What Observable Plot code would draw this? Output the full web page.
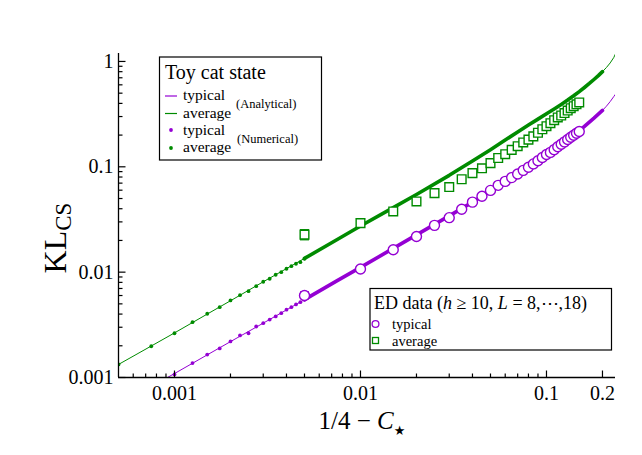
<!DOCTYPE html>
<html><head><meta charset="utf-8">
<script src="https://cdn.jsdelivr.net/npm/d3@7"></script>
<script src="https://cdn.jsdelivr.net/npm/@observablehq/plot@0.6"></script>
<style>body{margin:0;background:#fff;}</style>
</head><body><div id="chart"></div>
<script>
const purple = "#9400d3", green = "#008b00";
const FONT = "Liberation Serif, Times New Roman, serif";

// Analytical curves
const anaX = [0.0005,0.00075,0.001,0.0015,0.002,0.003,0.004,0.005,0.0075,0.01,0.015,0.02,0.03,0.04,0.05,0.06,0.07,0.08,0.09,0.1,0.11,0.12,0.13,0.14,0.15,0.16,0.17,0.18,0.19,0.2,0.21,0.22,0.23,0.236];
const anaTypical = [0.000545,0.00082,0.00109,0.00164,0.00219,0.00328,0.00438,0.00548,0.0083,0.0111,0.0168,0.0226,0.0342,0.0462,0.0590,0.0720,0.0855,0.0992,0.1135,0.129,0.145,0.162,0.180,0.199,0.219,0.242,0.266,0.290,0.316,0.343,0.376,0.416,0.464,0.494];
const anaAverage = [0.00133,0.00199,0.00265,0.0040,0.00535,0.0081,0.0108,0.0135,0.0204,0.0274,0.0410,0.0546,0.0830,0.1135,0.1455,0.1795,0.2142,0.2488,0.2835,0.319,0.354,0.391,0.430,0.472,0.517,0.566,0.618,0.674,0.734,0.800,0.876,0.968,1.09,1.20];

// Numerical dots (individually visible at small x)
const numX = [0.0005,0.00075,0.001,0.00125,0.0015,0.00175,0.002,0.00225,0.0025,0.00275,0.003,0.00325,0.0035,0.00375,0.004,0.00425,0.0045,0.00475,0.005];
const numAverage = [0.00133,0.00198,0.00263,0.00335,0.00403,0.00465,0.00539,0.00605,0.0066,0.00736,0.00811,0.00866,0.00945,0.0100,0.01077,0.0114,0.01202,0.01245,0.0134];
const numTypical = [null,null,0.00107,0.00137,0.00165,0.00189,0.0022,0.00251,0.00263,0.00305,0.00328,0.00355,0.0038,0.00408,0.0044,0.00465,0.00494,0.00519,0.00546];

// ED data
const edX = [0.005,0.01,0.015,0.02,0.025,0.03,0.035,0.04,0.045,0.05,0.055,0.06,0.065,0.07,0.075,0.08,0.085,0.09,0.095,0.1,0.105,0.11,0.115,0.12,0.125,0.13,0.135,0.14,0.145,0.15];
const edTypical = [0.0060,0.0107,0.0163,0.0218,0.0278,0.0329,0.0395,0.0462,0.0525,0.0597,0.0667,0.0727,0.0790,0.0855,0.0925,0.0990,0.1065,0.1140,0.1225,0.1310,0.1370,0.1455,0.1550,0.1635,0.1725,0.1815,0.1905,0.1990,0.2080,0.2165];
const edAverage = [0.0227,0.0292,0.0377,0.0469,0.0563,0.0642,0.0762,0.0871,0.0968,0.1084,0.1212,0.1318,0.1448,0.1568,0.1702,0.1813,0.1946,0.2105,0.2272,0.2430,0.2593,0.2770,0.2940,0.3070,0.3240,0.3420,0.3600,0.3760,0.3920,0.4080];
const errX = [0.005, 0.005];
const errLo = [0.0203, 0.0056];
const errHi = [0.0253, 0.0065];
const errSeries = ["average", "typical"];

// Ticks
const xMajor = [0.001, 0.01, 0.1, 0.2];
const xMinor = [0.0006,0.0007,0.0008,0.0009,0.002,0.003,0.004,0.005,0.006,0.007,0.008,0.009,0.02,0.03,0.04,0.05,0.06,0.07,0.08,0.09];
const yMajor = [0.001, 0.01, 0.1, 1];
const yMinor = [0.002,0.003,0.004,0.005,0.006,0.007,0.008,0.009,0.02,0.03,0.04,0.05,0.06,0.07,0.08,0.09,0.2,0.3,0.4,0.5,0.6,0.7,0.8,0.9];

const ana = anaX.flatMap((x, i) => [{x, y: anaTypical[i], s: "typical"}, {x, y: anaAverage[i], s: "average"}]);
const num = numX.flatMap((x, i) => [{x, y: numTypical[i], s: "typical"}, {x, y: numAverage[i], s: "average"}]).filter(d => d.y != null);
const band = ana.filter(d => d.x >= 0.005 && d.x <= 0.2);
const edT = edX.map((x, i) => ({x, y: edTypical[i]}));
const edA = edX.map((x, i) => ({x, y: edAverage[i]}));
const err = errX.map((x, i) => ({x, lo: errLo[i], hi: errHi[i], s: errSeries[i]}));

const vtick = {draw(ctx, size) { const l = Math.sqrt(size / Math.PI); ctx.moveTo(0, 0); ctx.lineTo(0, -l); }};
const htick = {draw(ctx, size) { const l = Math.sqrt(size / Math.PI); ctx.moveTo(0, 0); ctx.lineTo(l, 0); }};
const hcap = {draw(ctx, size) { const l = Math.sqrt(size / Math.PI); ctx.moveTo(-l, 0); ctx.lineTo(l, 0); }};

const chart = Plot.plot({
  width: 642, height: 455,
  marginLeft: 118, marginRight: 27, marginTop: 53, marginBottom: 78,
  style: {fontFamily: FONT, background: "white", color: "black"},
  x: {type: "log", domain: [0.0005, 0.235]},
  y: {type: "log", domain: [0.001, 1.19]},
  color: {domain: ["typical", "average"], range: [purple, green]},
  marks: [
    Plot.line(ana, {x: "x", y: "y", z: "s", stroke: "s", strokeWidth: 1, clip: true}),
    Plot.line(band, {x: "x", y: "y", z: "s", stroke: "s", strokeWidth: 3.6, strokeLinecap: "round", clip: true}),
    Plot.dot(num, {x: "x", y: "y", fill: "s", r: 1.9, clip: true}),
    Plot.ruleX(err, {x: "x", y1: "lo", y2: "hi", stroke: "s", strokeWidth: 1.3}),
    Plot.dot(err, {x: "x", y: "lo", symbol: hcap, r: 4.5, stroke: "s", fill: "none", strokeWidth: 1.3}),
    Plot.dot(err, {x: "x", y: "hi", symbol: hcap, r: 4.5, stroke: "s", fill: "none", strokeWidth: 1.3}),
    Plot.dot(edT, {x: "x", y: "y", r: 5, stroke: purple, fill: "white", strokeWidth: 1.4}),
    Plot.dot(edA, {x: "x", y: "y", symbol: "square", r: 4.9, stroke: green, fill: "white", strokeWidth: 1.4}),
    Plot.ruleY([0.001], {strokeWidth: 1.3}),
    Plot.ruleX([0.0005], {strokeWidth: 1.3}),
    Plot.dot(xMajor, {x: d => d, frameAnchor: "bottom", symbol: vtick, r: 7, stroke: "black", fill: "none", strokeWidth: 1.2}),
    Plot.dot(xMinor, {x: d => d, frameAnchor: "bottom", symbol: vtick, r: 4, stroke: "black", fill: "none", strokeWidth: 1.2}),
    Plot.dot(yMajor, {y: d => d, frameAnchor: "left", symbol: htick, r: 7, stroke: "black", fill: "none", strokeWidth: 1.2}),
    Plot.dot(yMinor, {y: d => d, frameAnchor: "left", symbol: htick, r: 4, stroke: "black", fill: "none", strokeWidth: 1.2}),
    Plot.axisX(xMajor, {tickSize: 0, tickPadding: 8, tickFormat: d => String(d), fontSize: 20, label: null}),
    Plot.axisY(yMajor, {tickSize: 0, tickPadding: 5, tickFormat: d => String(d), fontSize: 20, label: null})
  ]
});
document.getElementById("chart").appendChild(chart);

const svg = d3.select(chart);
function txt(g, x, y, size, parts, attrs = {}) {
  const t = g.append("text").attr("x", x).attr("y", y).attr("font-size", size).attr("font-family", FONT)
    .attr("fill", "black").attr("text-anchor", "start");
  for (const [k, v] of Object.entries(attrs)) t.attr(k, v);
  for (const p of parts) {
    if (typeof p === "string") t.append("tspan").text(p);
    else {
      const ts = t.append("tspan").text(p.t);
      if (p.italic) ts.attr("font-style", "italic");
      if (p.size) ts.attr("font-size", p.size);
      if (p.dy) ts.attr("dy", p.dy);
      if (p.font) ts.attr("font-family", p.font);
    }
  }
  return t;
}

// Axis titles
txt(svg, 0, 0, 32, ["KL", {t: "CS", size: 23, dy: 5}], {"text-anchor": "middle", transform: "translate(66,238) rotate(-90)"});
txt(svg, 362, 429, 25, ["1/4 \u2212 ", {t: "C", italic: true}, {t: "\u2605", size: 13, dy: 6, font: "DejaVu Sans"}], {"text-anchor": "middle"});

// Legend 1
const g1 = svg.append("g");
g1.append("rect").attr("x", 159.5).attr("y", 57).attr("width", 162).attr("height", 103).attr("fill", "white").attr("stroke", "black").attr("stroke-width", 1.2);
txt(g1, 165, 79, 20, ["Toy cat state"]);
g1.append("line").attr("x1", 165).attr("x2", 177).attr("y1", 96).attr("y2", 96).attr("stroke", purple).attr("stroke-width", 1.2);
txt(g1, 183, 100, 15.5, ["typical"]);
g1.append("line").attr("x1", 165).attr("x2", 177).attr("y1", 113.5).attr("y2", 113.5).attr("stroke", green).attr("stroke-width", 1.2);
txt(g1, 183, 117.5, 15.5, ["average"]);
txt(g1, 236, 107.5, 12.5, ["(Analytical)"]);
g1.append("circle").attr("cx", 171).attr("cy", 130).attr("r", 1.9).attr("fill", purple);
txt(g1, 183, 134.5, 15.5, ["typical"]);
g1.append("circle").attr("cx", 171).attr("cy", 148).attr("r", 1.9).attr("fill", green);
txt(g1, 183, 152, 15.5, ["average"]);
txt(g1, 237, 142.5, 12.5, ["(Numerical)"]);

// Legend 2
const g2 = svg.append("g");
g2.append("rect").attr("x", 370).attr("y", 288.5).attr("width", 241.5).attr("height", 61.5).attr("fill", "white").attr("stroke", "black").attr("stroke-width", 1.2);
txt(g2, 374, 309, 18, ["ED data (", {t: "h", italic: true}, " \u2265 10, ", {t: "L", italic: true}, " = 8,", {t: "\u22ef", font: "DejaVu Serif"}, ",18)"]);
g2.append("circle").attr("cx", 375.5).attr("cy", 324).attr("r", 3.4).attr("fill", "white").attr("stroke", purple).attr("stroke-width", 1.3);
txt(g2, 392, 328.5, 14.5, ["typical"]);
g2.append("rect").attr("x", 372.5).attr("y", 337.5).attr("width", 6).attr("height", 6).attr("fill", "white").attr("stroke", green).attr("stroke-width", 1.3);
txt(g2, 392, 345.5, 14.5, ["average"]);
</script>
</body></html>
